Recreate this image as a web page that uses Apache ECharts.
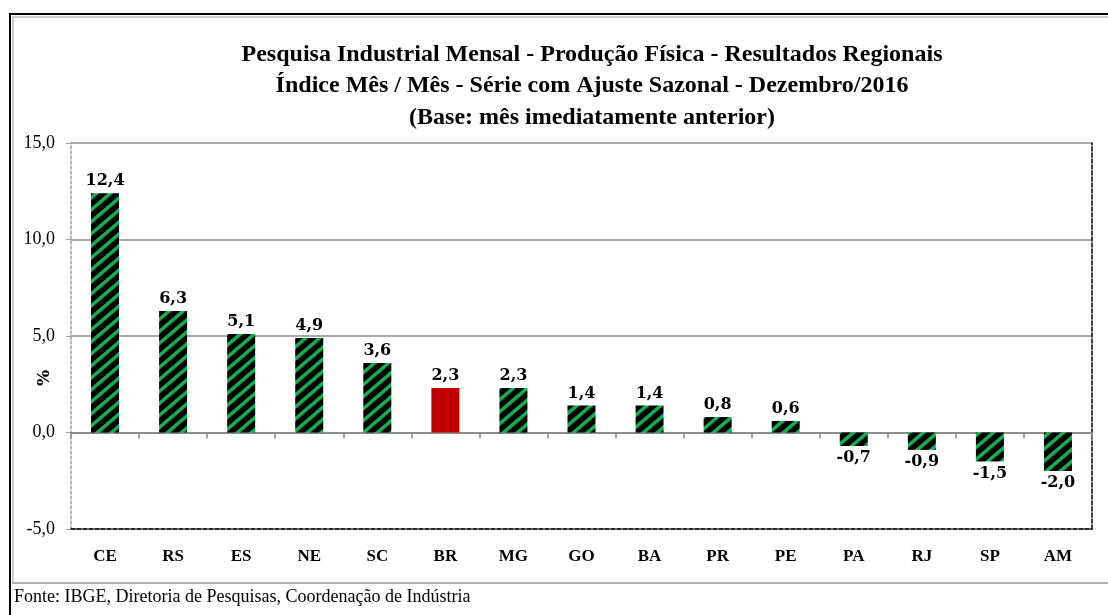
<!DOCTYPE html>
<html>
<head>
<meta charset="utf-8">
<script src="https://cdn.jsdelivr.net/npm/echarts@6/dist/echarts.min.js"></script>
<style>
  html, body { margin: 0; padding: 0; background: #fff; }
  #chart { width: 1108px; height: 615px; }
</style>
</head>
<body>
<div id="chart"></div>
<script>
const categories = ["CE", "RS", "ES", "NE", "SC", "BR", "MG", "GO", "BA", "PR", "PE", "PA", "RJ", "SP", "AM"];
const values = [12.4, 6.3, 5.1, 4.9, 3.6, 2.3, 2.3, 1.4, 1.4, 0.8, 0.6, -0.7, -0.9, -1.5, -2.0];
const highlight = "BR";
const yTicks = [-5, 0, 5, 10, 15];

const SERIF = "'Liberation Serif', 'DejaVu Serif', serif";
const WIDE = "'DejaVu Serif', serif";
const fmt = (v) => v.toFixed(1).replace(".", ",");

// diagonal black / green stripe fill
function stripePattern() {
  const c = document.createElement("canvas");
  const w = 14, h = 12;
  c.width = w; c.height = h;
  const g = c.getContext("2d");
  g.fillStyle = "#000";
  g.fillRect(0, 0, w, h);
  g.strokeStyle = "#12b04e";
  g.lineWidth = 3.5;
  g.beginPath();
  for (let k = -1; k <= 1; k++) {
    g.moveTo(-w, 2 * h + k * h);
    g.lineTo(2 * w, -h + k * h);
  }
  g.stroke();
  return c;
}
const stripes = { image: stripePattern(), repeat: "repeat" };

const chart = echarts.init(document.getElementById("chart"), null, { renderer: "canvas" });

chart.setOption({
  animation: false,
  backgroundColor: "#fff",
  title: {
    text: "Pesquisa Industrial Mensal - Produção Física - Resultados Regionais\nÍndice Mês / Mês - Série com Ajuste Sazonal - Dezembro/2016\n(Base: mês imediatamente anterior)",
    left: 587,
    top: 34,
    textAlign: "center",
    textStyle: { fontFamily: SERIF, fontWeight: "bold", fontSize: 24, lineHeight: 31.5, color: "#000" }
  },
  grid: { left: 71, right: 16, top: 143, bottom: 86 },
  xAxis: [
    {
      type: "category",
      data: categories,
      position: "bottom",
      axisLine: { onZero: false, lineStyle: { color: "#000", type: [4, 2], width: 1.5 } },
      axisTick: { show: false },
      axisLabel: { color: "#000", fontFamily: SERIF, fontWeight: "bold", fontSize: 17, margin: 19 }
    },
    {
      type: "category",
      data: categories,
      position: "top",
      axisLine: { lineStyle: { color: "#000", type: [4, 2], width: 1.5 } },
      axisTick: { show: false },
      axisLabel: { show: false }
    },
    {
      type: "category",
      data: categories,
      position: "bottom",
      axisLine: { onZero: true, lineStyle: { color: "#8c8c8c", width: 2 } },
      axisTick: { show: true, length: 6, lineStyle: { color: "#8c8c8c", width: 1.5 } },
      axisLabel: { show: false },
      z: 1
    }
  ],
  yAxis: [
    {
      type: "value",
      min: yTicks[0],
      max: yTicks[yTicks.length - 1],
      interval: 5,
      axisLine: { show: true, lineStyle: { color: "#a0a0a0", type: [3, 2], width: 1.5 } },
      axisTick: { show: true, length: 5, lineStyle: { color: "#a0a0a0" } },
      axisLabel: { color: "#000", fontFamily: SERIF, fontSize: 18, margin: 16, formatter: fmt },
      splitLine: { show: true, lineStyle: { color: "#8c8c8c", width: 1.5 } }
    },
    {
      type: "value",
      min: yTicks[0],
      max: yTicks[yTicks.length - 1],
      interval: 5,
      position: "right",
      axisLine: { show: true, lineStyle: { color: "#000", type: [4, 2], width: 1.5 } },
      axisTick: { show: false },
      axisLabel: { show: false },
      splitLine: { show: false }
    }
  ],
  series: [
    {
      type: "bar",
      xAxisIndex: 2,
      barWidth: 28,
      data: categories.map((c, i) => ({
        value: values[i],
        itemStyle: { color: c === highlight ? "#c00000" : stripes },
        label: { position: values[i] < 0 ? "bottom" : "top" }
      })),
      label: {
        show: true,
        color: "#000",
        fontFamily: WIDE,
        fontWeight: "bold",
        fontSize: 16,
        distance: 4,
        formatter: (p) => fmt(p.value)
      },
      z: 3
    }
  ],
  graphic: [
    { type: "line", shape: { x1: 9, y1: 14, x2: 1108, y2: 14 }, style: { stroke: "#000", lineWidth: 2 } },
    { type: "line", shape: { x1: 10, y1: 14, x2: 10, y2: 615 }, style: { stroke: "#000", lineWidth: 2 } },
    { type: "line", shape: { x1: 13, y1: 17, x2: 1108, y2: 17 }, style: { stroke: "#999", lineWidth: 1 } },
    { type: "line", shape: { x1: 13, y1: 17, x2: 13, y2: 583 }, style: { stroke: "#999", lineWidth: 1 } },
    { type: "line", shape: { x1: 12, y1: 583, x2: 1108, y2: 583 }, style: { stroke: "#999", lineWidth: 1.5 } },
    {
      type: "text", left: 14, top: 588,
      style: { text: "Fonte: IBGE, Diretoria de Pesquisas, Coordenação de Indústria", font: "18px " + SERIF, fill: "#000" }
    },
    {
      type: "text", x: 36, y: 386, rotation: Math.PI / 2,
      style: { text: "%", font: "bold 17px " + WIDE, fill: "#000" }
    }
  ]
});
</script>
</body>
</html>
